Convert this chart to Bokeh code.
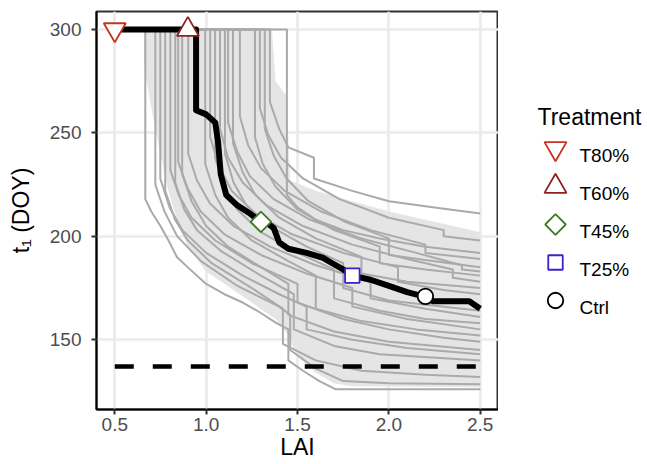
import math
from bokeh.plotting import figure
from bokeh.models import Range1d, FixedTicker, NumeralTickFormatter
from bokeh.layouts import row
from bokeh.embed import file_html
from bokeh.resources import INLINE
from bokeh.core.properties import value

# ---------------- data ----------------
x_ticks = [0.5, 1.0, 1.5, 2.0, 2.5]
y_ticks = [150, 200, 250, 300]

# gray simulation curves (LAI, t1)
c01_x = [0.5, 0.667, 0.667, 0.70, 0.75, 0.80, 0.84, 0.90, 1.00, 1.10, 1.20, 1.28, 1.385, 1.45, 1.45, 1.53, 1.62, 1.71, 2.50]
c01_y = [300, 300, 218, 212, 205, 197, 190, 185, 177, 172, 168, 164, 158, 155, 140, 135, 130, 126, 126]
c02_x = [0.5, 0.722, 0.722, 0.772, 0.842, 0.972, 1.172, 1.40, 1.46, 1.46, 1.60, 1.75, 2.00, 2.50]
c02_y = [300, 300, 225, 212, 200, 188, 176, 166, 162, 145, 136, 130, 129, 128.5]
c03_x = [0.5, 0.749, 0.749, 0.80, 0.87, 1.00, 1.20, 1.40, 1.55, 1.55, 1.80, 2.10, 2.50]
c03_y = [300, 300, 228, 214, 203, 192, 181, 172, 166, 155, 150, 146, 143]
c04_x = [0.5, 0.776, 0.776, 0.83, 0.90, 1.03, 1.25, 1.42, 1.42, 1.60, 1.85, 2.20, 2.50]
c04_y = [300, 300, 222, 208, 198, 187, 175, 165, 148, 140, 135, 133, 132]
c05_x = [0.5, 0.804, 0.804, 0.85, 0.92, 1.05, 1.25, 1.50, 1.50, 1.75, 2.00, 2.30, 2.50]
c05_y = [300, 300, 232, 220, 209, 198, 187, 177, 168, 160, 155, 151, 149]
c06_x = [0.5, 0.831, 0.831, 0.88, 0.95, 1.08, 1.30, 1.48, 1.48, 1.70, 1.95, 2.50]
c06_y = [300, 300, 226, 213, 203, 193, 181, 172, 155, 147, 143, 140]
c07_x = [0.5, 0.847, 0.847, 0.90, 0.97, 1.10, 1.30, 1.55, 1.80, 1.80, 2.10, 2.50]
c07_y = [300, 300, 236, 223, 212, 201, 191, 182, 175, 166, 160, 155]
c08_x = [0.5, 0.869, 0.869, 0.92, 1.00, 1.12, 1.32, 1.45, 1.45, 1.70, 2.00, 2.50]
c08_y = [300, 300, 230, 217, 205, 195, 184, 177, 162, 154, 149, 145]
c09_x = [0.5, 0.902, 0.902, 0.95, 1.02, 1.15, 1.35, 1.60, 1.90, 1.90, 2.20, 2.50]
c09_y = [300, 300, 240, 227, 216, 205, 195, 186, 178, 170, 165, 161]
c10_x = [0.5, 0.995, 0.995, 1.05, 1.12, 1.25, 1.45, 1.60, 1.60, 1.85, 2.15, 2.50]
c10_y = [300, 300, 235, 220, 209, 198, 188, 181, 165, 159, 155, 152]
c11_x = [0.5, 1.022, 1.022, 1.07, 1.14, 1.27, 1.47, 1.75, 2.05, 2.05, 2.30, 2.50]
c11_y = [300, 300, 248, 234, 222, 211, 201, 192, 185, 178, 174, 172]
c12_x = [0.5, 1.049, 1.049, 1.10, 1.17, 1.30, 1.50, 1.70, 1.70, 1.95, 2.20, 2.50]
c12_y = [300, 300, 238, 224, 213, 202, 192, 184, 170, 164, 160, 158]
c13_x = [0.5, 1.076, 1.076, 1.12, 1.20, 1.33, 1.53, 1.80, 2.10, 2.35, 2.35, 2.50]
c13_y = [300, 300, 252, 238, 226, 215, 205, 196, 189, 184, 180, 178]
c14_x = [0.5, 1.103, 1.103, 1.15, 1.22, 1.35, 1.55, 1.75, 1.75, 2.00, 2.30, 2.50]
c14_y = [300, 300, 240, 226, 215, 205, 195, 187, 175, 169, 166, 164]
c15_x = [0.5, 1.12, 1.12, 1.17, 1.24, 1.37, 1.57, 1.85, 2.15, 2.40, 2.40, 2.50]
c15_y = [300, 300, 255, 241, 229, 218, 208, 199, 192, 186, 184, 183]
c16_x = [0.5, 1.147, 1.147, 1.20, 1.27, 1.40, 1.60, 1.85, 1.85, 2.10, 2.50]
c16_y = [300, 300, 245, 231, 220, 209, 199, 190, 182, 178, 175]
c17_x = [0.5, 1.185, 1.185, 1.23, 1.30, 1.43, 1.63, 1.90, 2.20, 2.20, 2.50]
c17_y = [300, 300, 258, 244, 233, 222, 212, 203, 196, 192, 189]
c18_x = [0.5, 1.267, 1.267, 1.31, 1.38, 1.50, 1.70, 1.95, 1.95, 2.20, 2.50]
c18_y = [300, 300, 248, 235, 224, 213, 203, 195, 187, 184, 181]
c19_x = [0.5, 1.294, 1.294, 1.34, 1.41, 1.53, 1.73, 2.00, 2.30, 2.30, 2.50]
c19_y = [300, 300, 262, 249, 238, 228, 218, 209, 203, 200, 198]
c20_x = [0.5, 1.321, 1.321, 1.37, 1.44, 1.56, 1.76, 2.00, 2.00, 2.25, 2.50]
c20_y = [300, 300, 252, 239, 228, 217, 207, 199, 191, 188, 185]
c21_x = [0.5, 1.349, 1.349, 1.40, 1.45, 1.59, 1.59, 1.80, 2.00, 2.25, 2.50]
c21_y = [300, 300, 265, 252, 243, 238, 228, 222, 217, 214, 211]
c22_x = [0.5, 1.442, 1.442, 1.50, 1.60, 1.75, 1.95, 2.20, 2.50]
c22_y = [300, 300, 220, 214, 208, 203, 199, 195, 192]

# ribbon (upper and lower bounds)
rib_up_x = [0.66, 1.36, 1.38, 1.44, 1.46, 1.60, 1.80, 2.00, 2.20, 2.40, 2.50]
rib_up_y = [300, 300, 275, 268, 227, 222, 217, 212, 208, 204, 202]
rib_lo_x = [0.66, 0.70, 0.75, 0.79, 0.85, 0.90, 1.00, 1.20, 1.38, 1.45, 1.50, 1.60, 1.70, 1.80, 2.50]
rib_lo_y = [283, 262, 240, 223, 205, 195, 183, 171, 160, 152, 142, 134, 129, 127.5, 127]

# mean curve (black)
mean_x = [0.5, 0.945, 0.945, 1.00, 1.05, 1.065, 1.08, 1.11, 1.17, 1.24, 1.30, 1.34, 1.37, 1.40, 1.45, 1.55,
          1.64, 1.69, 1.75, 1.80, 1.90, 2.00, 2.10, 2.20, 2.24, 2.44, 2.50]
mean_y = [300, 300, 261, 259, 255, 246, 230, 220, 215, 211, 207, 206, 204, 197, 194, 192,
          189.6, 187, 184, 181, 179, 176, 173, 170.7, 168.6, 168.6, 165]

# dashed reference line
ref_x = [0.5, 2.5]
ref_y = [137, 137]

# treatments
trt_names = ["T80%", "T60%", "T45%", "T25%", "Ctrl"]
trt_lai = [0.5, 0.9, 1.3, 1.8, 2.2]
trt_t1 = [300, 300, 207, 181, 171]
trt_colors = ["#C8321E", "#8B2323", "#3F7A25", "#3A22C8", "#000000"]
trt_markers = ["inverted_triangle", "triangle", "square", "square", "circle"]
trt_sizes = [22, 22, 14.6, 14.5, 15.5]
trt_angles = [0, 0, math.pi / 4, 0, 0]

# ---------------- main plot ----------------
FONT = "Liberation Sans"

p = figure(width=498, height=464, x_range=Range1d(0.4, 2.6), y_range=Range1d(116.25, 308.75),
           output_backend="svg", toolbar_location=None,
           min_border_left=96, min_border_top=11, min_border_right=0, min_border_bottom=55)
p.background_fill_color = "white"
p.border_fill_color = "white"
p.outline_line_color = "#333333"
p.outline_line_width = 2

for g in (p.xgrid, p.ygrid):
    g.grid_line_color = "#EBEBEB"
    g.grid_line_width = 2.7
    g.minor_grid_line_color = None

p.xaxis.ticker = FixedTicker(ticks=x_ticks)
p.yaxis.ticker = FixedTicker(ticks=y_ticks)
p.xaxis.formatter = NumeralTickFormatter(format="0.0")
p.yaxis.formatter = NumeralTickFormatter(format="0")

p.xaxis.axis_label = "LAI"
p.yaxis.axis_label = "t\u2081 (DOY)"
for ax in (p.xaxis, p.yaxis):
    ax.axis_label_text_font = FONT
    ax.axis_label_text_font_size = "23px"
    ax.axis_label_text_font_style = "normal"
    ax.axis_label_text_color = "black"
    ax.major_label_text_font = FONT
    ax.major_label_text_font_size = "19px"
    ax.major_label_text_color = "#4D4D4D"
    ax.major_tick_out = 5
    ax.major_tick_in = 0
    ax.minor_tick_out = 0
    ax.minor_tick_in = 0
    ax.major_tick_line_color = "#333333"
    ax.major_tick_line_width = 2
    ax.axis_line_color = "black"
    ax.axis_line_width = 2
p.xaxis.major_label_standoff = 3
p.xaxis.axis_label_standoff = 0
p.yaxis.major_label_standoff = 10
p.yaxis.axis_label_standoff = 13

# ribbon
p.patch(rib_up_x + rib_lo_x[::-1], rib_up_y + rib_lo_y[::-1], fill_color="#E5E5E5", line_color=None)

# gray curves
curves_x = [c01_x, c02_x, c03_x, c04_x, c05_x, c06_x, c07_x, c08_x, c09_x, c10_x, c11_x,
            c12_x, c13_x, c14_x, c15_x, c16_x, c17_x, c18_x, c19_x, c20_x, c21_x, c22_x]
curves_y = [c01_y, c02_y, c03_y, c04_y, c05_y, c06_y, c07_y, c08_y, c09_y, c10_y, c11_y,
            c12_y, c13_y, c14_y, c15_y, c16_y, c17_y, c18_y, c19_y, c20_y, c21_y, c22_y]
p.multi_line(xs=curves_x, ys=curves_y, line_color="#AAAAAA", line_width=2, line_join="round")

# dashed line
p.line(ref_x, ref_y, line_color="black", line_width=4.5, line_dash="19 19", line_cap="butt")

# mean line
p.line(mean_x, mean_y, line_color="black", line_width=6, line_join="round", line_cap="butt")

# treatment markers
for i in range(len(trt_names)):
    p.scatter(x=[trt_lai[i]], y=[trt_t1[i]], marker=trt_markers[i], size=trt_sizes[i],
              angle=trt_angles[i], fill_color="white", line_color=trt_colors[i], line_width=1.8)

# ---------------- legend panel ----------------
# the row aligns this panel's frame with the main frame (window y 11..409),
# so the y range is given in window pixels of that span
leg = figure(width=149, height=464, x_range=Range1d(0, 149), y_range=Range1d(409, 11),
             output_backend="svg", toolbar_location=None, x_axis_type=None, y_axis_type=None,
             min_border=0)
leg.outline_line_color = None
leg.grid.visible = False
leg.background_fill_color = "white"
leg.border_fill_color = "white"

leg.text(x=[39], y=[116.7], text=["Treatment"], text_font=value(FONT), text_font_size="23px",
         text_color="black", text_baseline="alphabetic")
leg_rows = [148, 186, 224, 262, 300]
for i in range(len(trt_names)):
    leg.scatter(x=[57], y=[leg_rows[i]], marker=trt_markers[i], size=trt_sizes[i],
                angle=trt_angles[i], fill_color="white", line_color=trt_colors[i], line_width=1.8)
    leg.text(x=[81], y=[leg_rows[i] + 7], text=[trt_names[i]], text_font=value(FONT),
             text_font_size="19px", text_color="black", text_baseline="alphabetic")

layout = row(p, leg)
open("out.html", "w").write(file_html(layout, INLINE))
